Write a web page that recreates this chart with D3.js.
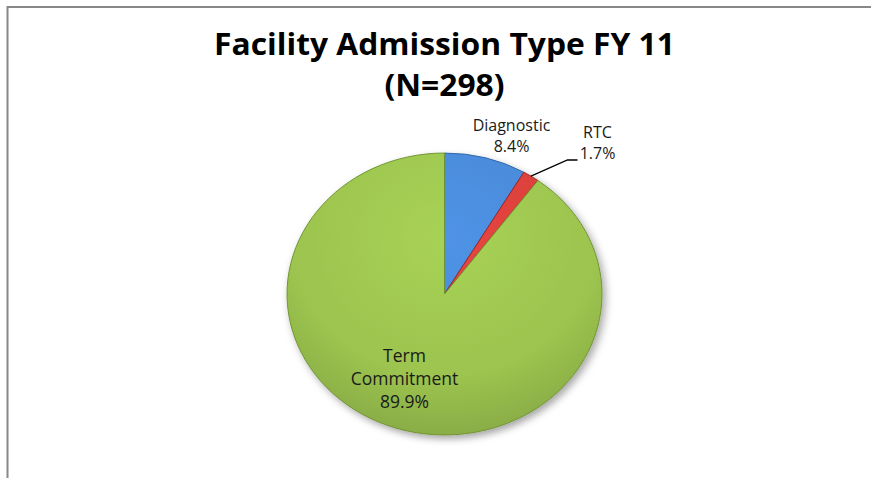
<!DOCTYPE html>
<html lang="en">
<head>
  <meta charset="UTF-8">
  <title>Facility Admission Type FY 11</title>
  <script src="https://d3js.org/d3.v7.min.js"></script>
  <style>
    body {
      margin: 0;
      background: #fff;
    }
    svg text {
      font-family: "Open Sans", "Noto Sans", sans-serif;
      fill: #1a1a1a;
    }
    .title {
      font-weight: bold;
      fill: #000;
    }
  </style>
</head>
<body>
<div id="chart"></div>

<script>
  // data
  const categories = ["Diagnostic", "RTC", "Term Commitment"];
  const percents = [8.4, 1.7, 89.9];
  const labelLines = [["Diagnostic", "8.4%"], ["RTC", "1.7%"], ["Term", "Commitment", "89.9%"]];
  const colors = ["#4a89d6", "#d8403c", "#9cc44f"];
  const edgeColors = ["#2f64a8", "#9a2622", "#6d9230"];
  const titleLines = ["Facility Admission Type FY 11", "(N=298)"];

  const width = 871;
  const height = 478;

  // pie geometry (the original is a bit squashed vertically)
  const cx = 444.5, cy = 294;
  const radius = 157.5;
  const squash = 0.895;

  const svg = d3.select("#chart")
          .append("svg")
          .attr("width", width)
          .attr("height", height);

  const defs = svg.append("defs");

  const shadow = defs.append("filter")
          .attr("id", "shadow")
          .attr("x", "-20%").attr("y", "-20%")
          .attr("width", "150%").attr("height", "150%");
  shadow.append("feDropShadow")
          .attr("dx", 3).attr("dy", 4)
          .attr("stdDeviation", 4)
          .attr("flood-color", "#000")
          .attr("flood-opacity", 0.35);

  colors.forEach((c, i) => {
    const g = defs.append("radialGradient")
            .attr("id", "grad" + i)
            .attr("gradientUnits", "userSpaceOnUse")
            .attr("cx", 0).attr("cy", -radius * 0.4).attr("r", radius * 1.4);
    g.append("stop").attr("offset", "0%").attr("stop-color", d3.color(c).brighter(0.2));
    g.append("stop").attr("offset", "70%").attr("stop-color", c);
    g.append("stop").attr("offset", "100%").attr("stop-color", d3.color(c).darker(0.35));
  });

  // frame (top and left edges only are visible)
  svg.append("line")
          .attr("x1", 7).attr("y1", 7).attr("x2", width).attr("y2", 7)
          .attr("stroke", "#888").attr("stroke-width", 2);
  svg.append("line")
          .attr("x1", 7.5).attr("y1", 6).attr("x2", 7.5).attr("y2", height)
          .attr("stroke", "#888").attr("stroke-width", 2);

  // title (slightly stretched sideways, like the original)
  svg.selectAll(".title")
          .data(titleLines)
          .enter()
          .append("text")
          .attr("class", "title")
          .attr("transform", (d, i) => `translate(${cx},${55 + i * 41}) scale(1.06,1)`)
          .attr("text-anchor", "middle")
          .style("font-size", "30px")
          .text(d => d);

  // pie
  const pie = d3.pie().sort(null).value(d => d);
  const arcs = pie(percents);
  const arc = d3.arc().innerRadius(0).outerRadius(radius);

  const pieG = svg.append("g")
          .attr("transform", `translate(${cx},${cy}) scale(1,${squash})`)
          .attr("filter", "url(#shadow)");

  pieG.selectAll("path")
          .data(arcs)
          .enter()
          .append("path")
          .attr("d", arc)
          .attr("fill", (d, i) => `url(#grad${i})`)
          .attr("stroke", (d, i) => edgeColors[i])
          .attr("stroke-width", 1)
          .attr("stroke-linejoin", "round");

  // label placement relative to the pie centre (pixels)
  const labelOffset = [[67, -163], [153, -156], [-40, 68]];
  const lineGap = [21, 21, 23];
  const labelSize = [16, 16, 17.5];

  const labelG = svg.append("g").attr("transform", `translate(${cx},${cy})`);

  labelLines.forEach((lines, i) => {
    const t = labelG.append("text")
            .attr("text-anchor", "middle")
            .style("font-size", labelSize[i] + "px");
    lines.forEach((s, j) => {
      t.append("tspan")
              .attr("x", labelOffset[i][0])
              .attr("y", labelOffset[i][1] + j * lineGap[i])
              .text(s);
    });
  });

  // leader line for RTC
  const mid = (arcs[1].startAngle + arcs[1].endAngle) / 2;
  const p0 = [Math.sin(mid) * radius, -Math.cos(mid) * radius * squash];
  labelG.append("polyline")
          .attr("points", [p0, [123, -134], [133, -134]].map(p => p.join(",")).join(" "))
          .attr("fill", "none")
          .attr("stroke", "#000")
          .attr("stroke-width", 1.3);
</script>

</body>
</html>
